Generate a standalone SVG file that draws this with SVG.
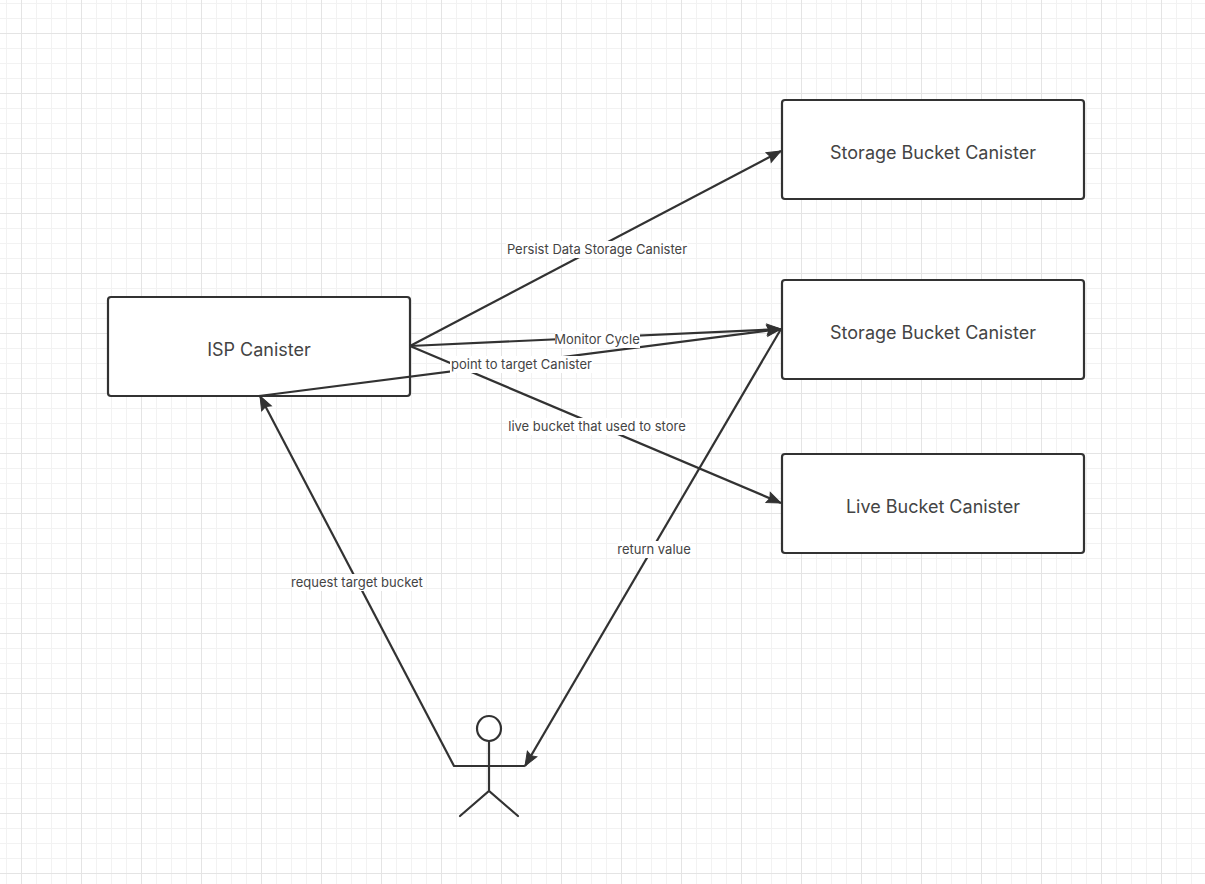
<svg xmlns="http://www.w3.org/2000/svg" width="1205" height="884" viewBox="0 0 1205 884">
<style>
.box{fill:#fff;stroke:#323232;stroke-width:2.200}
.t{font-family:Inter,"Liberation Sans",sans-serif;font-size:18px;fill:#444;text-anchor:middle}
.l{font-family:Inter,"Liberation Sans",sans-serif;font-size:13px;fill:#444;text-anchor:middle}
.c{fill:none;stroke:#323232;stroke-width:2.200}
.bg{fill:#fff}
.a{fill:none;stroke:#323232;stroke-width:2.200;stroke-linecap:round}
</style>
<defs>
<pattern id="g" width="60" height="60" patternUnits="userSpaceOnUse" x="21" y="33">
<rect width="60" height="60" fill="#fff"/>
<path d="M15.5 0V60M30.5 0V60M45.5 0V60M0 15.5H60M0 30.5H60M0 45.5H60" stroke="#f2f2f2" stroke-width="1" fill="none"/>
<path d="M.5 0V60M0 .5H60" stroke="#e4e4e4" stroke-width="1" fill="none"/>
</pattern>
<marker id="ah" markerUnits="userSpaceOnUse" markerWidth="20" markerHeight="16" refX="16" refY="7" orient="auto" viewBox="0 0 20 14">
<path d="M16 7L2 1.500L4 7L2 12.500Z" fill="#323232" stroke="#323232" stroke-width="1"/>
</marker>
</defs>
<rect width="1205" height="884" fill="url(#g)"/>
<g id="isp"><rect class="box" x="108" y="297" width="302" height="99" rx="3"/><text class="t" x="259" y="356">ISP Canister</text></g>
<g id="storage1"><rect class="box" x="782" y="100" width="302" height="99" rx="3"/><text class="t" x="933" y="159">Storage Bucket Canister</text></g>
<g id="storage2"><rect class="box" x="782" y="280" width="302" height="99" rx="3"/><text class="t" x="933" y="339">Storage Bucket Canister</text></g>
<g id="live"><rect class="box" x="782" y="454" width="302" height="99" rx="3"/><text class="t" x="933" y="513">Live Bucket Canister</text></g>
<g id="actor">
<ellipse cx="489" cy="728.500" rx="12" ry="12.500" fill="#fff" stroke="#323232" stroke-width="2.200"/>
<path class="a" d="M489 741V791M454 766H524M460 816L489 791L518 816"/>
</g>
<g id="connectors">
<path class="c" marker-end="url(#ah)" d="M410 346L781 151"/>
<path class="c" marker-end="url(#ah)" d="M410 346L781 329"/>
<path class="c" marker-end="url(#ah)" d="M259 396L781 329"/>
<path class="c" marker-end="url(#ah)" d="M410 346L781 503"/>
<path class="c" marker-end="url(#ah)" d="M454 766L260 396"/>
<path class="c" marker-end="url(#ah)" d="M781 329L525 766"/>
</g>
<g id="labels">
<rect class="bg" x="506" y="241" width="182" height="17"/>
<text class="l" x="597" y="254">Persist Data Storage Canister</text>
<rect class="bg" x="555" y="331" width="85" height="17"/>
<text class="l" x="597" y="344">Monitor Cycle</text>
<rect class="bg" x="450" y="356" width="143" height="17"/>
<text class="l" x="521.500" y="369">point to target Canister</text>
<rect class="bg" x="508" y="418" width="179" height="17"/>
<text class="l" x="597" y="431">live bucket that used to store</text>
<rect class="bg" x="618" y="541" width="72" height="17"/>
<text class="l" x="654" y="554">return value</text>
<rect class="bg" x="292" y="574" width="131" height="17"/>
<text class="l" x="357" y="587">request target bucket</text>
</g>
</svg>
